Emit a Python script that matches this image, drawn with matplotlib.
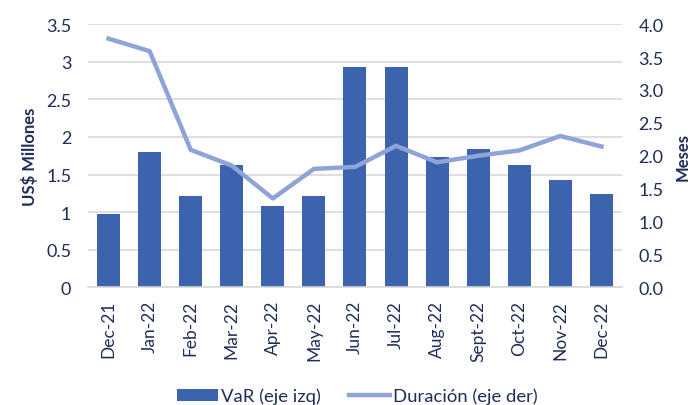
import matplotlib
matplotlib.use("Agg")
import matplotlib.pyplot as plt
from matplotlib.lines import Line2D
from matplotlib.patches import Patch

months = ["Dec-21", "Jan-22", "Feb-22", "Mar-22", "Apr-22", "May-22", "Jun-22",
          "Jul-22", "Aug-22", "Sept-22", "Oct-22", "Nov-22", "Dec-22"]
var_vals = [0.98, 1.80, 1.21, 1.63, 1.08, 1.22, 2.93, 2.93, 1.73, 1.84, 1.63, 1.43, 1.24]
duracion = [3.78, 3.59, 2.09, 1.85, 1.35, 1.80, 1.83, 2.15, 1.90, 2.00, 2.08, 2.30, 2.14]
left_ticks = [0, 0.5, 1, 1.5, 2, 2.5, 3, 3.5]
left_labels = ["0", "0.5", "1", "1.5", "2", "2.5", "3", "3.5"]
right_ticks = [0, 0.5, 1, 1.5, 2, 2.5, 3, 3.5, 4]
right_labels = ["0.0", "0.5", "1.0", "1.5", "2.0", "2.5", "3.0", "3.5", "4.0"]

plt.rcParams['font.family'] = ['Lato', 'DejaVu Sans']
txt = "#1F2D5A"
bar_c = "#3C64AE"
line_c = "#8EA4D8"

fig = plt.figure(figsize=(6.93, 4.06), dpi=100)
ax = fig.add_axes([0.127, 0.29, 0.7705, 0.648])
x = list(range(len(months)))
ax.bar(x, var_vals, width=0.56, color=bar_c, zorder=2)
ax.set_ylim(0, 3.5)
ax.set_xlim(-0.5, len(months) - 0.5)
ax.set_yticks(left_ticks)
ax.set_yticklabels(left_labels)
ax.grid(axis='y', color="#D9D9D9", linewidth=1.2, zorder=0)
ax.set_axisbelow(True)
for s in ["top", "right", "left"]:
    ax.spines[s].set_visible(False)
ax.spines["bottom"].set_color("#D9D9D9")
ax.spines["bottom"].set_linewidth(1.2)
ax.tick_params(axis='y', length=0, pad=12, labelsize=13, labelcolor=txt)
ax.tick_params(axis='x', length=0, pad=9, labelsize=12.5, labelcolor=txt)
ax.set_xticks(x)
ax.set_xticklabels(months, rotation=90)
ax.set_ylabel("US$ Millones", fontsize=12, fontweight='bold', color=txt, labelpad=6)

ax2 = ax.twinx()
ax2.plot(x, duracion, color=line_c, linewidth=3.2, zorder=3)
ax2.set_ylim(0, 4)
ax2.set_yticks(right_ticks)
ax2.set_yticklabels(right_labels)
for s in ["top", "right", "left", "bottom"]:
    ax2.spines[s].set_visible(False)
ax2.tick_params(axis='y', length=0, pad=12, labelsize=13, labelcolor=txt)
ax2.set_ylabel("Meses", fontsize=12, fontweight='bold', color=txt, labelpad=8)

handles = [Patch(facecolor=bar_c, edgecolor='none'),
           Line2D([0], [0], color=line_c, linewidth=3.2)]
fig.legend(handles, ["VaR (eje izq)", "Duración (eje der)"], loc='center',
           bbox_to_anchor=(0.516, 0.022), ncol=2, frameon=False, fontsize=13.3,
           labelcolor=txt, handlelength=2.2, handleheight=0.6, columnspacing=1.5,
           handletextpad=0.2)

fig.savefig("out.png", dpi=100)
